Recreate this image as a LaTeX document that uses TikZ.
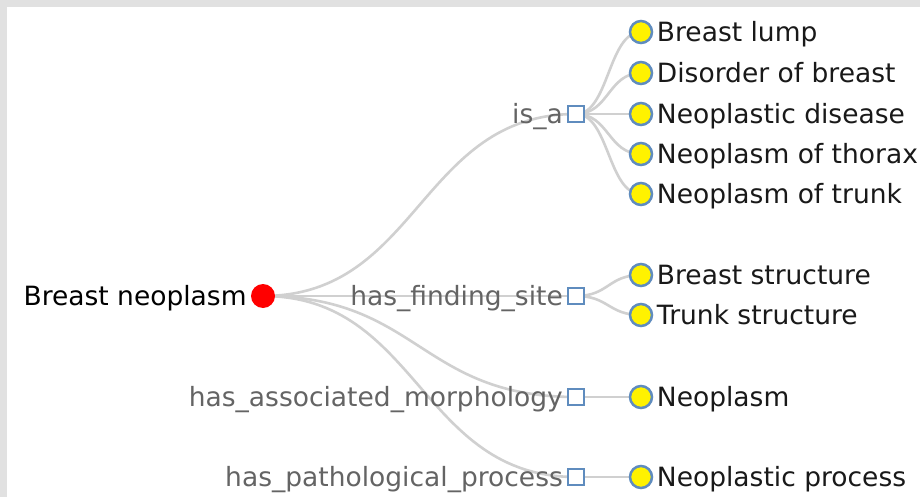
\documentclass[tikz,border=0pt]{standalone}
\usepackage{fontspec}
\setmainfont{DejaVu Sans}
\usetikzlibrary{backgrounds}
\definecolor{linkgray}{RGB}{208,208,208}
\definecolor{framegray}{RGB}{225,225,225}
\definecolor{relblue}{RGB}{95,140,190}
\definecolor{reltext}{RGB}{100,100,100}
\definecolor{leaftext}{RGB}{25,25,25}

\begin{document}
\begin{tikzpicture}[x=1pt,y=-1pt,
  lk/.style={draw=linkgray,line width=2.6pt},
  txt/.style={font=\fontsize{26.5}{30}\selectfont,inner sep=0pt,
              text height=19pt,text depth=0pt},
  rt/.style={txt,text=reltext,label distance=4pt},
  lt/.style={txt,text=leaftext,label distance=3.5pt},
  rel/.style={draw=relblue,fill=white,line width=2pt,minimum size=16pt,inner sep=0pt},
  leaf/.style={circle,draw=relblue,fill=yellow,line width=2.5pt,
               minimum size=22pt,inner sep=0pt},
  rootdot/.style={circle,fill=red,minimum size=24pt,inner sep=0pt}]
  \useasboundingbox (0,0) rectangle (920,497);
  % root and relations
  \node[rootdot,label={[txt,text=black,label distance=4pt]left:Breast neoplasm}] (bn) at (263,296) {};
  \node[rel,label={[rt]left:is\_a}] (isa) at (576,114) {};
  \node[rel,label={[rt]left:has\_finding\_site}] (site) at (576,296) {};
  \node[rel,label={[rt]left:has\_associated\_morphology}] (morph) at (576,397) {};
  \node[rel,label={[rt]left:has\_pathological\_process}] (proc) at (576,477) {};
  % targets
  \node[leaf,label={[lt]right:Breast lump}] (lump) at (641,32) {};
  \node[leaf,label={[lt]right:Disorder of breast}] (disb) at (641,73) {};
  \node[leaf,label={[lt]right:Neoplastic disease}] (neod) at (641,114) {};
  \node[leaf,label={[lt]right:Neoplasm of thorax}] (thor) at (641,154) {};
  \node[leaf,label={[lt]right:Neoplasm of trunk}] (trunk) at (641,194) {};
  \node[leaf,label={[lt]right:Breast structure}] (bstr) at (641,275) {};
  \node[leaf,label={[lt]right:Trunk structure}] (tstr) at (641,315) {};
  \node[leaf,label={[lt]right:Neoplasm}] (neo) at (641,397) {};
  \node[leaf,label={[lt]right:Neoplastic process}] (neop) at (641,477) {};
  \begin{scope}[on background layer]
    \fill[framegray] (0,0) rectangle (920,497);
    \fill[white] (7,7) rectangle (920,497);
    \foreach \r in {isa,site,morph,proc}
      \draw[lk] (bn.center) .. controls +(156,0) and +(-156,0) .. (\r.center);
    \foreach \l in {lump,disb,neod,thor,trunk}
      \draw[lk] (isa.center) .. controls +(33,0) and +(-33,0) .. (\l.center);
    \draw[lk] (site.center) .. controls +(33,0) and +(-33,0) .. (bstr.center);
    \draw[lk] (site.center) .. controls +(33,0) and +(-33,0) .. (tstr.center);
    \draw[lk] (morph) -- (neo);
    \draw[lk] (proc) -- (neop);
  \end{scope}
\end{tikzpicture}
\end{document}
